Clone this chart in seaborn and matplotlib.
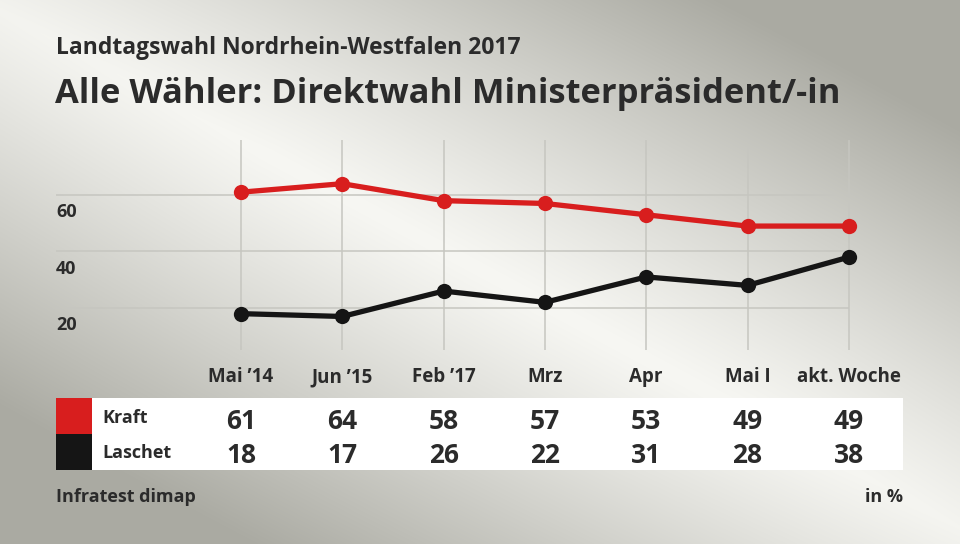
import numpy as np
import pandas as pd
import matplotlib
matplotlib.use("Agg")
import matplotlib.pyplot as plt
import matplotlib.transforms as mtransforms
from matplotlib.patches import Rectangle
import seaborn as sns

# ---------------- data ----------------
categories = ["Mai \u201914", "Jun \u201915", "Feb \u201917", "Mrz", "Apr", "Mai I", "akt. Woche"]
kraft = [61, 64, 58, 57, 53, 49, 49]
laschet = [18, 17, 26, 22, 31, 28, 38]
series_names = ["Kraft", "Laschet"]
series_colors = ["#d81e1e", "#151515"]
yticks = [20, 40, 60]

title_top = "Landtagswahl Nordrhein-Westfalen 2017"
title_main = "Alle W\u00e4hler: Direktwahl Ministerpr\u00e4sident/-in"
source = "Infratest dimap"
unit = "in %"

# ---------------- setup ----------------
sns.set_theme(style="white")
plt.rcParams["font.family"] = ["Open Sans", "DejaVu Sans"]
TXT = "#2b2b2b"

W, H = 960, 544
fig = plt.figure(figsize=(W / 100, H / 100), dpi=100)

# background gradient
bg = fig.add_axes([0, 0, 1, 1], zorder=-10)
yy, xx = np.mgrid[0:H, 0:W]
u = xx / W
v = yy / H
d = np.abs(v - u * 0.95 - 0.02)
t = np.clip(d / 0.75, 0, 1) ** 1.1
r0 = np.sqrt((u - 0.55) ** 2 + (v - 0.5) ** 2)
t = np.clip(t + 0.12 * np.clip(r0 - 0.35, 0, 1), 0, 1)
light = np.array([247, 247, 243]) / 255
dark = np.array([170, 170, 162]) / 255
img = light[None, None, :] * (1 - t[..., None]) + dark[None, None, :] * t[..., None]
bg.imshow(img, extent=[0, 1, 0, 1], aspect="auto", origin="upper")
bg.axis("off")

def px2fig_x(px):
    return px / W

def px2fig_y(py):
    return 1 - py / H

# table background (below main axes)
tbl_top, tbl_mid, tbl_bot = 398, 434, 470
for rect in [
    Rectangle((px2fig_x(92), px2fig_y(tbl_bot)), (903 - 92) / W, (tbl_bot - tbl_top) / H,
              facecolor="white"),
    Rectangle((px2fig_x(56), px2fig_y(tbl_mid)), 36 / W, 36 / H, facecolor=series_colors[0]),
    Rectangle((px2fig_x(56), px2fig_y(tbl_bot)), 36 / W, 36 / H, facecolor=series_colors[1]),
]:
    rect.set_transform(fig.transFigure)
    rect.set_edgecolor("none")
    rect.set_zorder(-5)
    fig.patches.append(rect)

# main axes in pixel geometry
ax_left, ax_right = 56, 903
ax_top, ax_bot = 140, 350
ax = fig.add_axes([px2fig_x(ax_left), px2fig_y(ax_bot),
                   (ax_right - ax_left) / W, (ax_bot - ax_top) / H])
ax.set_zorder(2)
ax.set_facecolor("none")

x0_px, dx_px = 241, 101.3
xlim_left = -(x0_px - ax_left) / dx_px
xlim_right = 6 + (ax_right - (x0_px + 6 * dx_px)) / dx_px
ax.set_xlim(xlim_left, xlim_right)
px_per_unit = 2.825
y0_px = 364.5
ax.set_ylim((y0_px - ax_bot) / px_per_unit, (y0_px - ax_top) / px_per_unit)
ymin, ymax = ax.get_ylim()

idx = np.arange(len(categories))
grid_c = "#c6c6c0"
ax.hlines(yticks, xlim_left, len(categories) - 1, colors=grid_c, linewidth=1.1, zorder=1)
ax.vlines(idx, ymin, ymax, colors=grid_c, linewidth=1.1, zorder=1)

df = pd.DataFrame({
    "x": np.concatenate([idx, idx]),
    "value": kraft + laschet,
    "name": [series_names[0]] * len(idx) + [series_names[1]] * len(idx),
})
sns.lineplot(data=df, x="x", y="value", hue="name", palette=series_colors,
             hue_order=series_names, marker="o", markersize=11, markeredgewidth=0,
             linewidth=3.8, legend=False, ax=ax, zorder=3)
for ln in ax.lines:
    ln.set_clip_on(False)

for s in ax.spines.values():
    s.set_visible(False)
ax.set_xticks([])
ax.set_yticks([])
ax.set_xlabel("")
ax.set_ylabel("")

# y tick labels below gridlines
ytr = mtransforms.blended_transform_factory(ax.transAxes, ax.transData)
for yv in yticks:
    ax.text(0, yv - 22 / px_per_unit, str(yv), transform=ytr, ha="left", va="baseline",
            fontsize=13, fontweight="bold", color=TXT)

# category labels & table values
ctr = mtransforms.blended_transform_factory(ax.transData, fig.transFigure)
for i, c in enumerate(categories):
    ax.text(i, px2fig_y(382), c, transform=ctr, ha="center", va="baseline",
            fontsize=13.5, fontweight="bold", color=TXT, clip_on=False)

label_base = [423, 458]
value_base = [429, 463]
for name, vals, lb, vb in zip(series_names, [kraft, laschet], label_base, value_base):
    fig.text(px2fig_x(102), px2fig_y(lb), name, ha="left", va="baseline",
             fontsize=13, fontweight="bold", color=TXT)
    for i, val in enumerate(vals):
        ax.text(i, px2fig_y(vb), str(val), transform=ctr, ha="center", va="baseline",
                fontsize=19, fontweight="bold", color=TXT, clip_on=False)

# titles
fig.text(px2fig_x(56), px2fig_y(48), title_top, ha="left", va="center",
         fontsize=16.5, fontweight="bold", color=TXT)
fig.text(px2fig_x(55), px2fig_y(94), title_main, ha="left", va="center",
         fontsize=24.8, fontweight="bold", color=TXT)

# footer
fig.text(px2fig_x(56), px2fig_y(497), source, ha="left", va="center",
         fontsize=13, fontweight="bold", color=TXT)
fig.text(px2fig_x(903), px2fig_y(497), unit, ha="right", va="center",
         fontsize=13, fontweight="bold", color=TXT)

fig.savefig("out.png", dpi=100)
